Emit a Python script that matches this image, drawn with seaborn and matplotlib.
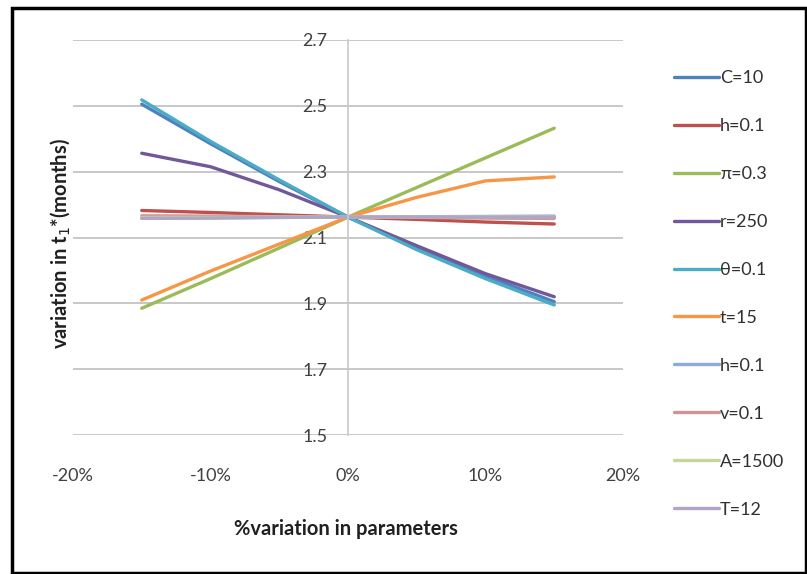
import matplotlib
matplotlib.use("Agg")
import matplotlib.pyplot as plt
import seaborn as sns
from matplotlib.patches import Rectangle
from matplotlib.ticker import PercentFormatter

# % variation in parameters (as fractions)
pct = [-0.15, -0.10, -0.05, 0.0, 0.05, 0.10, 0.15]

# t1* (months) for each parameter
c10 = [2.505, 2.385, 2.270, 2.162, 2.068, 1.983, 1.905]
h01 = [2.182, 2.176, 2.169, 2.162, 2.155, 2.147, 2.141]
pi03 = [1.885, 1.975, 2.068, 2.162, 2.252, 2.342, 2.432]
r250 = [2.356, 2.315, 2.245, 2.162, 2.075, 1.990, 1.920]
theta01 = [2.518, 2.392, 2.275, 2.162, 2.063, 1.975, 1.895]
t15 = [1.910, 1.998, 2.080, 2.162, 2.222, 2.272, 2.284]
h01b = [2.159, 2.160, 2.161, 2.162, 2.163, 2.164, 2.165]
v01 = [2.166, 2.165, 2.163, 2.162, 2.161, 2.159, 2.158]
a1500 = [2.161, 2.161, 2.162, 2.162, 2.162, 2.163, 2.163]
t12 = [2.158, 2.159, 2.161, 2.162, 2.162, 2.162, 2.162]

labels = ["C=10", "h=0.1", "\u03c0=0.3", "r=250", "\u03b8=0.1",
          "t=15", "h=0.1", "v=0.1", "A=1500", "T=12"]
series = [c10, h01, pi03, r250, theta01, t15, h01b, v01, a1500, t12]
colors = ["#4F81BD", "#C0504D", "#9BBB59", "#70589A", "#4BACC6",
          "#F79646", "#8EA9DB", "#D09498", "#C3D69B", "#AFA5C6"]

yticks = [1.5, 1.7, 1.9, 2.1, 2.3, 2.5, 2.7]
xticks = [-0.2, -0.1, 0.0, 0.1, 0.2]

sns.set_style("white")
plt.rcParams["font.family"] = ["Lato", "DejaVu Sans"]
plt.rcParams["axes.unicode_minus"] = False

fig = plt.figure(figsize=(8.07, 5.74), dpi=100)
ax = fig.add_axes([73 / 807, 139 / 574, 550 / 807, 395 / 574])

for name, vals, col in zip(labels, series, colors):
    sns.lineplot(x=pct, y=vals, color=col, lw=2.4, label=name, ax=ax)

ax.set_xlim(-0.2, 0.2)
ax.set_ylim(1.5, 2.7)
ax.set_xticks(xticks)
ax.set_yticks(yticks)
ax.set_yticklabels([f"{v:.1f}" for v in yticks])
ax.xaxis.set_major_formatter(PercentFormatter(xmax=1, decimals=0))
ax.yaxis.grid(True, color="#BFBFBF", lw=1.2)
ax.set_axisbelow(True)

for s in ["top", "right", "bottom"]:
    ax.spines[s].set_visible(False)
ax.spines["left"].set_position(("data", 0))
ax.spines["left"].set_color("#C8C8C8")
ax.spines["left"].set_linewidth(1.2)

ax.tick_params(axis="y", length=0, pad=15, labelsize=13, labelcolor="#404040")
ax.tick_params(axis="x", length=0, pad=24, labelsize=13, labelcolor="#404040")

ax.set_xlabel("")
ax.set_ylabel("")
fig.text(346 / 807, 1 - 529 / 574, "%variation in parameters", ha="center",
         va="center", fontsize=14.5, fontweight="bold", color="#202020")
fig.text(60 / 807, 1 - 244 / 574, "variation in t$_1$*(months)", ha="center",
         va="center", rotation=90, fontsize=14.5, fontweight="bold",
         color="#202020")

ax.legend(loc="upper left", bbox_to_anchor=(674 / 807, 1 - 70 / 574),
          bbox_transform=fig.transFigure, frameon=False, fontsize=13,
          handlelength=2.5, handletextpad=0.05, labelspacing=1.77,
          borderaxespad=0, borderpad=0, labelcolor="#303030")

fig.patches.append(Rectangle((12 / 807, 1 / 574), 794 / 807, 565 / 574,
                             transform=fig.transFigure, fill=False,
                             edgecolor="black", lw=2.5))

fig.savefig("out.png", dpi=100)
